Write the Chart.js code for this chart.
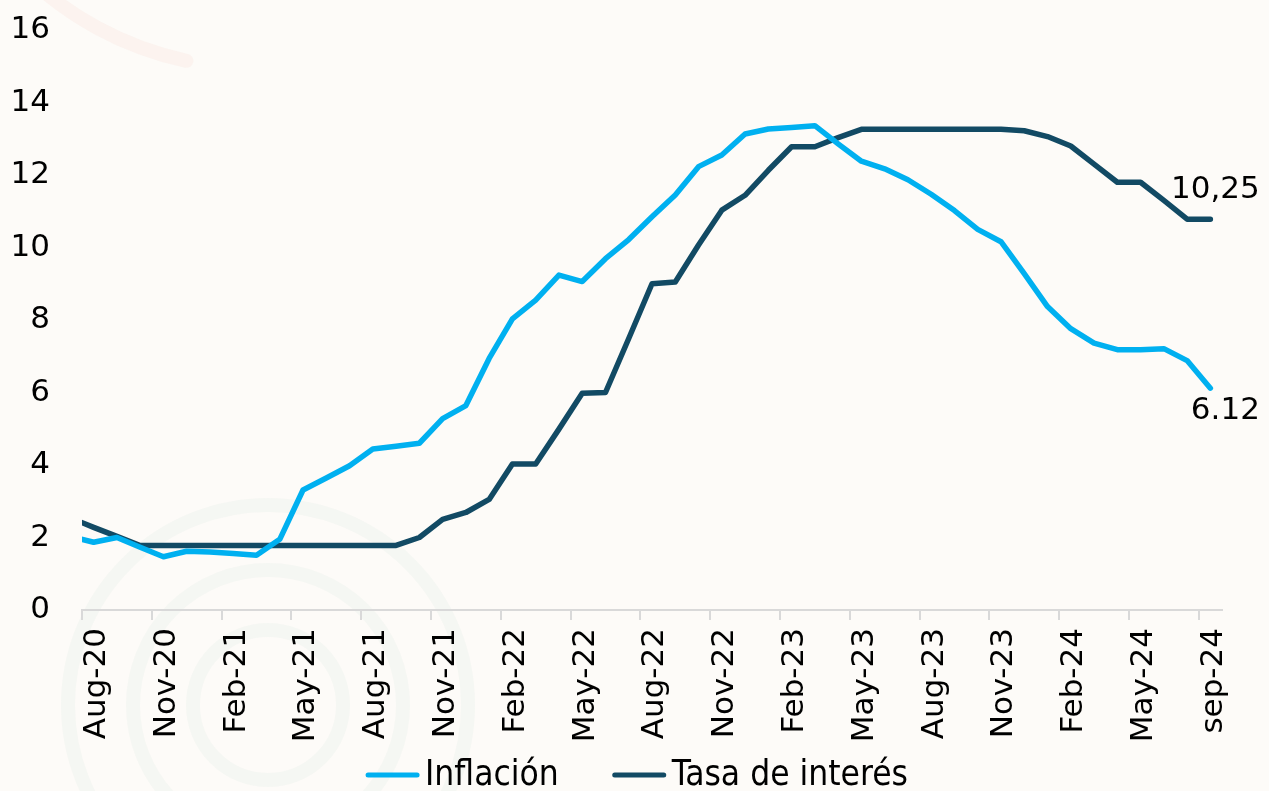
<!DOCTYPE html>
<html>
<head>
<meta charset="utf-8">
<script src="https://cdn.jsdelivr.net/npm/chart.js@4.4.1/dist/chart.umd.min.js"></script>
<style>
  html, body { margin: 0; padding: 0; background: #fdfbf8; }
  #wrap { width: 1269px; height: 791px; position: relative; }
</style>
</head>
<body>
<div id="wrap"><canvas id="chart"></canvas></div>
<script>
// Monthly data, Jul-20 .. Aug-24 (Jul-20 sits half a month left of the axis start)
const months = [
  'Jul-20','Aug-20','Sep-20','Oct-20','Nov-20','Dec-20',
  'Jan-21','Feb-21','Mar-21','Apr-21','May-21','Jun-21','Jul-21','Aug-21','Sep-21','Oct-21','Nov-21','Dec-21',
  'Jan-22','Feb-22','Mar-22','Apr-22','May-22','Jun-22','Jul-22','Aug-22','Sep-22','Oct-22','Nov-22','Dec-22',
  'Jan-23','Feb-23','Mar-23','Apr-23','May-23','Jun-23','Jul-23','Aug-23','Sep-23','Oct-23','Nov-23','Dec-23',
  'Jan-24','Feb-24','Mar-24','Apr-24','May-24','Jun-24','Jul-24','Aug-24'
];

const inflacion = [
  2.03, 1.87, 2.00, 1.73, 1.47, 1.62,
  1.60, 1.56, 1.51, 1.95, 3.31, 3.64, 3.98, 4.44, 4.52, 4.60, 5.28, 5.64,
  6.94, 8.03, 8.55, 9.24, 9.06, 9.69, 10.22, 10.85, 11.45, 12.23, 12.55, 13.13,
  13.27, 13.31, 13.36, 12.86, 12.38, 12.17, 11.87, 11.47, 11.02, 10.50, 10.16, 9.28,
  8.37, 7.76, 7.36, 7.18, 7.18, 7.21, 6.88, 6.12
];

const tasa = [
  2.54, 2.28, 2.03, 1.78, 1.78, 1.78,
  1.78, 1.78, 1.78, 1.78, 1.78, 1.78, 1.78, 1.78, 1.78, 2.00, 2.50, 2.69,
  3.05, 4.03, 4.03, 4.99, 5.98, 6.00, 7.49, 9.00, 9.05, 10.07, 11.03, 11.44,
  12.13, 12.78, 12.78, 13.03, 13.26, 13.26, 13.26, 13.26, 13.26, 13.26, 13.26, 13.22,
  13.06, 12.80, 12.30, 11.80, 11.80, 11.30, 10.78, 10.78
];

const tickLabels = [
  'Aug-20','Nov-20','Feb-21','May-21','Aug-21','Nov-21','Feb-22','May-22','Aug-22',
  'Nov-22','Feb-23','May-23','Aug-23','Nov-23','Feb-24','May-24','sep-24'
];

const seriesNames = ['Inflación', 'Tasa de interés'];
const endLabels = ['6.12', '10,25'];

const FONT = "'DejaVu Sans', Verdana, sans-serif";
const LEGEND_FONT = "'DejaVu Sans Condensed', 'DejaVu Sans', sans-serif";
const colors = ['#00b0f0', '#124a64'];

// x position in months from Aug-20 start; points sit mid-month
const toPoints = vals => vals.map((v, i) => ({ x: i - 0.5, y: v }));

const backdrop = {
  id: 'backdrop',
  beforeDraw(chart) {
    const ctx = chart.ctx;
    ctx.save();
    ctx.fillStyle = '#fdfbf8';
    ctx.fillRect(0, 0, chart.width, chart.height);
    // faint watermark rings
    ctx.strokeStyle = 'rgba(226, 236, 231, 0.28)';
    ctx.lineWidth = 14;
    [200, 135, 75].forEach(r => {
      ctx.beginPath();
      ctx.arc(268, 705, r, 0, Math.PI * 2);
      ctx.stroke();
    });
    ctx.strokeStyle = 'rgba(250, 230, 224, 0.35)';
    ctx.lineCap = 'round';
    ctx.beginPath();
    ctx.arc(255, -262, 330, Math.PI * 102 / 180, Math.PI * 135 / 180);
    ctx.stroke();
    ctx.restore();
  }
};

const endLabelPlugin = {
  id: 'endLabels',
  afterDatasetsDraw(chart) {
    const ctx = chart.ctx;
    const offs = [[15, 23], [5, -29]];
    ctx.save();
    ctx.font = '31px ' + FONT;
    ctx.fillStyle = '#000';
    ctx.textAlign = 'center';
    ctx.textBaseline = 'middle';
    chart.data.datasets.forEach((ds, d) => {
      const pts = chart.getDatasetMeta(d).data;
      const p = pts[pts.length - 1];
      ctx.fillText(endLabels[d], p.x + offs[d][0], p.y + offs[d][1]);
    });
    ctx.restore();
  }
};

const legendPlugin = {
  id: 'bottomLegend',
  afterDraw(chart) {
    const ctx = chart.ctx;
    ctx.save();
    ctx.font = '35px ' + LEGEND_FONT;
    ctx.textBaseline = 'middle';
    const sample = 53, gapText = 6, gapItem = 54;
    const widths = seriesNames.map(n => ctx.measureText(n).width);
    const total = widths.reduce((s, w) => s + sample + gapText + w, 0) + gapItem;
    let x = 637 - total / 2;
    const y = 775;
    seriesNames.forEach((n, i) => {
      ctx.strokeStyle = colors[i];
      ctx.lineWidth = 5;
      ctx.lineCap = 'round';
      ctx.beginPath();
      ctx.moveTo(x + 2, y);
      ctx.lineTo(x + sample - 2, y);
      ctx.stroke();
      x += sample + gapText;
      ctx.fillStyle = '#000';
      ctx.fillText(n, x, y + 1);
      x += widths[i] + gapItem;
    });
    ctx.restore();
  }
};

new Chart(document.getElementById('chart'), {
  type: 'line',
  data: {
    datasets: [
      {
        label: seriesNames[0],
        data: toPoints(inflacion),
        borderColor: colors[0],
        backgroundColor: colors[0],
        borderWidth: 5.5,
        pointRadius: 0,
        borderCapStyle: 'round',
        borderJoinStyle: 'round',
        tension: 0,
        clip: { left: 0, top: 5, right: 5, bottom: 5 }
      },
      {
        label: seriesNames[1],
        data: toPoints(tasa),
        borderColor: colors[1],
        backgroundColor: colors[1],
        borderWidth: 5.5,
        pointRadius: 0,
        borderCapStyle: 'round',
        borderJoinStyle: 'round',
        tension: 0,
        clip: { left: 0, top: 5, right: 5, bottom: 5 }
      }
    ]
  },
  options: {
    responsive: true,
    maintainAspectRatio: false,
    devicePixelRatio: 1,
    animation: false,
    layout: { padding: { top: 30, right: 47, bottom: 0, left: 0 } },
    plugins: {
      legend: { display: false },
      tooltip: { enabled: false }
    },
    scales: {
      x: {
        type: 'linear',
        min: 0,
        max: 49,
        afterBuildTicks: s => { s.ticks = tickLabels.map((t, k) => ({ value: k * 3 })); },
        afterFit: s => { s.height = 181; },
        border: { display: true, color: '#d9d9d9', width: 2 },
        grid: { display: true, drawOnChartArea: false, drawTicks: true, tickLength: 10, color: '#d9d9d9', lineWidth: 2 },
        ticks: {
          autoSkip: false,
          maxRotation: 90,
          minRotation: 90,
          padding: 8,
          labelOffset: 15,
          color: '#000',
          font: { family: FONT, size: 31 },
          callback: v => tickLabels[Math.round(v / 3)]
        }
      },
      y: {
        min: 0,
        max: 16,
        afterFit: s => { s.width = 82; s.paddingTop = 0; s.paddingBottom = 0; },
        border: { display: false },
        grid: { display: false, drawTicks: false },
        ticks: {
          stepSize: 2,
          padding: 32,
          color: '#000',
          font: { family: FONT, size: 31 }
        }
      }
    }
  },
  plugins: [backdrop, endLabelPlugin, legendPlugin]
});
</script>
</body>
</html>
